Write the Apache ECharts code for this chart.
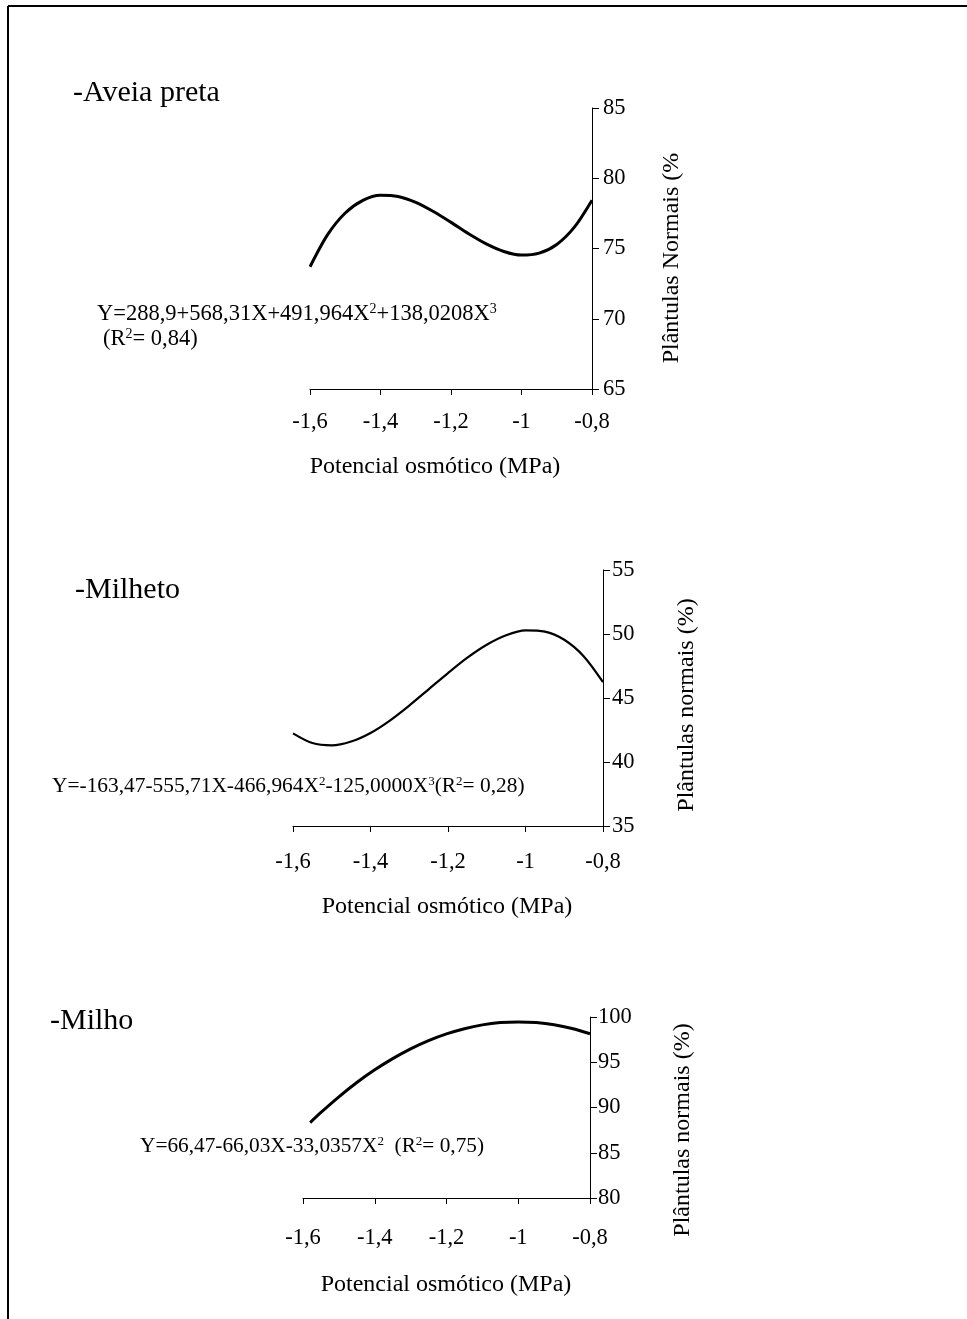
<!DOCTYPE html>
<html>
<head>
<meta charset="utf-8">
<script src="https://cdn.jsdelivr.net/npm/echarts@6/dist/echarts.min.js"></script>
<style>
html,body{margin:0;padding:0;background:#fff;}
#chart{width:967px;height:1319px;}
</style>
</head>
<body>
<div id="chart"></div>
<script>
// ---- data ----
var xTickLabels = ['-1,6', '-1,4', '-1,2', '-1', '-0,8'];
var xTickValues = [-1.6, -1.4, -1.2, -1.0, -0.8];

var aveiaX = [-1.6,-1.55,-1.5,-1.45,-1.4,-1.35,-1.3,-1.25,-1.2,-1.15,-1.1,-1.05,-1.0,-0.95,-0.9,-0.85,-0.8];
var aveiaY = [73.70,75.99,77.53,78.43,78.79,78.70,78.28,77.63,76.86,76.05,75.33,74.79,74.53,74.67,75.29,76.52,78.44];

var milhetoX = [-1.6,-1.55,-1.5,-1.45,-1.4,-1.35,-1.3,-1.25,-1.2,-1.15,-1.1,-1.05,-1.0,-0.95,-0.9,-0.85,-0.8];
var milhetoY = [42.24,41.48,41.30,41.60,42.27,43.24,44.41,45.68,46.95,48.15,49.16,49.90,50.28,50.19,49.55,48.27,46.24];

var milhoX = [-1.58,-1.55,-1.5,-1.45,-1.4,-1.35,-1.3,-1.25,-1.2,-1.15,-1.1,-1.05,-1.0,-0.95,-0.9,-0.85,-0.8];
var milhoY = [88.33,89.45,91.18,92.76,94.16,95.40,96.48,97.39,98.13,98.71,99.13,99.38,99.46,99.38,99.14,98.73,98.15];

var yTicks1 = [65, 70, 75, 80, 85];
var yTicks2 = [35, 40, 45, 50, 55];
var yTicks3 = [80, 85, 90, 95, 100];

var titles = ['-Aveia preta', '-Milheto', '-Milho'];
var xName = 'Potencial osmótico (MPa)';
var yNames = ['Plântulas Normais (%', 'Plântulas normais (%)', 'Plântulas normais (%)'];
// {s|..} marks superscript digits
var eq1a = 'Y=288,9+568,31X+491,964X{s|2}+138,0208X{s|3}';
var eq1b = '(R{s|2}= 0,84)';
var eq2 = 'Y=-163,47-555,71X-466,964X{s|2}-125,0000X{s|3}(R{s|2}= 0,28)';
var eq3 = 'Y=66,47-66,03X-33,0357X{s|2}  (R{s|2}= 0,75)';

// ---- build ----
var FONT = '"Liberation Serif","Times New Roman",serif';
function pairs(xs, ys){ return xs.map(function(x,i){ return [x, ys[i]]; }); }
function xFmt(v){
  for (var i=0;i<xTickValues.length;i++){ if (Math.abs(v - xTickValues[i]) < 1e-6) return xTickLabels[i]; }
  return '';
}
var grids = [
  {left:310, top:108, width:282, height:281},
  {left:293, top:570, width:310, height:256},
  {left:303, top:1017, width:287, height:181}
];
var yRanges = [yTicks1, yTicks2, yTicks3];
var xMargins = [22, 25, 29];
var yMargins = [11, 9, 8];
var lineWidths = [3, 2.2, 3];
var datasets = [pairs(aveiaX, aveiaY), pairs(milhetoX, milhetoY), pairs(milhoX, milhoY)];

var xAxes = [], yAxes = [], series = [];
for (var i=0;i<3;i++){
  xAxes.push({
    type:'value', gridIndex:i, min:-1.6, max:-0.8, interval:0.2, position:'bottom',
    axisLine:{show:true, onZero:false, lineStyle:{color:'#000', width:1}},
    axisTick:{show:true, inside:false, length:6, lineStyle:{color:'#000', width:1}},
    axisLabel:{show:true, margin:xMargins[i], formatter:xFmt, color:'#000', fontFamily:FONT, fontSize:22.5},
    splitLine:{show:false}
  });
  var yt = yRanges[i];
  yAxes.push({
    type:'value', gridIndex:i, min:yt[0], max:yt[yt.length-1], interval:yt[1]-yt[0], position:'right',
    axisLine:{show:true, onZero:false, lineStyle:{color:'#000', width:1}},
    axisTick:{show:true, inside:false, length:7, lineStyle:{color:'#000', width:1}},
    axisLabel:{show:true, margin:yMargins[i], color:'#000', fontFamily:FONT, fontSize:22.5},
    splitLine:{show:false}
  });
  series.push({
    type:'line', xAxisIndex:i, yAxisIndex:i, data:datasets[i], smooth:0.3,
    showSymbol:false, symbol:'none', lineStyle:{color:'#000', width:lineWidths[i]},
    silent:true, animation:false
  });
}

function txt(x, y, s, size, align, rot){
  return {type:'text', x:x, y:y, rotation:rot||0, silent:true,
    style:{text:s, fill:'#000', font: size + 'px ' + FONT, textAlign:align||'left', textVerticalAlign:'middle',
      rich:{s:{fontSize:Math.round(size*0.62), fontFamily:FONT, fill:'#000', verticalAlign:'top'}}}};
}
var graphic = [
  {type:'line', silent:true, shape:{x1:8, y1:6, x2:967, y2:6}, style:{stroke:'#000', lineWidth:2}},
  {type:'line', silent:true, shape:{x1:8, y1:6, x2:8, y2:1319}, style:{stroke:'#000', lineWidth:2}},
  txt(73, 93, titles[0], 30),
  txt(75, 590, titles[1], 30),
  txt(50, 1021, titles[2], 30),
  txt(435, 467, xName, 24, 'center'),
  txt(447, 907, xName, 24, 'center'),
  txt(446, 1285, xName, 24, 'center'),
  txt(672, 258, yNames[0], 24, 'center', Math.PI/2),
  txt(687, 705, yNames[1], 24, 'center', Math.PI/2),
  txt(683, 1130, yNames[2], 24, 'center', Math.PI/2),
  txt(97, 314, eq1a, 22.5),
  txt(103, 339, eq1b, 22.5),
  txt(52, 786, eq2, 21.4),
  txt(140, 1146, eq3, 21.3)
];

var chart = echarts.init(document.getElementById('chart'), null, {renderer:'canvas'});
chart.setOption({
  animation:false,
  backgroundColor:'#fff',
  grid:grids,
  xAxis:xAxes,
  yAxis:yAxes,
  series:series,
  graphic:graphic
});
</script>
</body>
</html>
